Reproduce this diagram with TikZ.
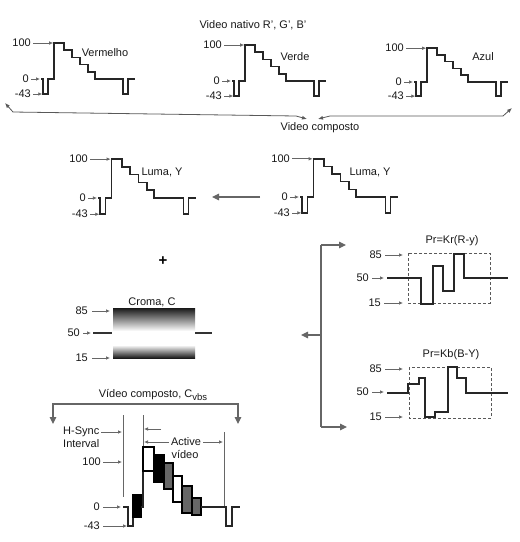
\documentclass[tikz,border=0pt]{standalone}
\usepackage{fontspec}
\setmainfont{Liberation Sans}
\usetikzlibrary{arrows.meta}
\tikzset{
  wav/.style={line width=1.5pt, draw=black!85, line join=miter},
  lab/.style={font=\fontsize{11}{12}\selectfont, inner sep=0pt, text=black!90},
  tick/.style={draw=black!60, line width=0.7pt, -{Latex[length=4pt,width=3.5pt]}},
  conn/.style={draw=black!60, line width=1.1pt, -{Triangle[length=7pt,width=6.5pt]}},
  thinl/.style={draw=black!65, line width=0.8pt},
  gline/.style={draw=black!60, line width=0.8pt},
  dbox/.style={draw=black!65, line width=0.9pt, dash pattern=on 3pt off 2pt},
  burst/.style={draw=black, line width=1.2pt},
}
\newcommand\mywave[5]{%
  \begin{scope}[shift={(#2,#3)},xscale=#4,yscale=#5]
    \draw[wav] (0,0) -- (2,0) -- (2,15) -- (7,15) -- (7,0) -- (13,0) -- (13,-36)
      -- (23,-36) -- (23,-28.8) -- (31,-28.8) -- (31,-21.6) -- (39,-21.6)
      -- (39,-14.4) -- (47,-14.4) -- (47,-7.2) -- (54,-7.2) -- (54,0)
      -- (82,0) -- (82,15) -- (87,15) -- (87,0) -- (94,0);
    \coordinate (#1-a) at (12.2,-36);
    \coordinate (#1-b) at (-1,0);
    \coordinate (#1-c) at (1.3,15);
  \end{scope}
  \node[lab,anchor=east] (#1-n100) at ({#2-10},{#3-36*#5}) {100};
  \node[lab,anchor=east] (#1-n0) at ({#2-12},{#3}) {0};
  \node[lab,anchor=east] (#1-n43) at ({#2-10},{#3+15*#5}) {-43};
  \draw[tick] ([xshift=2pt]#1-n100.east) -- (#1-a);
  \draw[tick] ([xshift=2pt]#1-n0.east) -- (#1-b);
  \draw[tick] ([xshift=2pt]#1-n43.east) -- (#1-c);
}
\begin{document}
\begin{tikzpicture}[x=1pt,y=-1pt]
\useasboundingbox[fill=white] (0,0) rectangle (520,542);

% ---------- top row ----------
\node[lab] (title) at (253,25) {Video nativo R', G', B'};
\mywave{r}{41}{79}{1}{1}
\mywave{g}{232}{81}{1}{1}
\mywave{b}{414}{82}{1}{0.94}
\node[lab] (tr) at (105,53) {Vermelho};
\node[lab] (tg) at (295,57) {Verde};
\node[lab] (tb) at (483,57) {Azul};

% composite brackets
\coordinate (c1) at (5,103);
\coordinate (c2) at (13,112);
\coordinate (c3) at (296,116);
\coordinate (c4) at (307,119);
\draw[thinl, {Latex[length=5pt,width=4pt]}-{Latex[length=5pt,width=4pt]}] (c1) -- (c2) -- (c3) -- (c4);
\coordinate (d1) at (318,119);
\coordinate (d2) at (330,116);
\coordinate (d3) at (503,116);
\coordinate (d4) at (512,108);
\draw[thinl, {Latex[length=5pt,width=4pt]}-{Latex[length=5pt,width=4pt]}] (d1) -- (d2) -- (d3) -- (d4);
\node[lab] (vc) at (320,128) {Video composto};

% ---------- luma row ----------
\mywave{yl}{98}{198}{1.04}{1.08}
\mywave{yr}{300}{197}{1.04}{1.06}
\node[lab] (tyl) at (162,172) {Luma, Y};
\node[lab] (tyr) at (370,172) {Luma, Y};
\coordinate (la) at (260,197);
\coordinate (lb) at (212,197);
\draw[conn] (la) -- (lb);

\node[font=\fontsize{15}{15}\selectfont\bfseries, inner sep=0pt] (plus) at (163,261) {+};

% ---------- chroma ----------
\node[lab] (tc) at (152,302) {Croma, C};
\shade[top color=black!90, bottom color=white] (113,308) rectangle (195,331);
\fill[white] (113,331) rectangle (195,345);
\shade[top color=white, bottom color=black!90] (113,345) rectangle (195,358);
\draw[line width=1.1pt, black!80] (93,333) -- (112,333);
\draw[line width=1.1pt, black!80] (195,333) -- (212,333);
\node[lab,anchor=east] (c85) at (88,311) {85};
\node[lab,anchor=east] (c50) at (80,333) {50};
\node[lab,anchor=east] (c15) at (88,358) {15};
\coordinate (c85t) at (110,311);
\coordinate (c50t) at (91,333);
\coordinate (c15t) at (110,358);
\draw[tick] ([xshift=4pt]c85.east) -- (c85t);
\draw[tick] ([xshift=3pt]c50.east) -- (c50t);
\draw[tick] ([xshift=4pt]c15.east) -- (c15t);

% ---------- right side tree ----------
\coordinate (v1) at (321,245);
\coordinate (v2) at (321,427);
\coordinate (v3) at (321,335);
\coordinate (r1) at (346,245);
\coordinate (r2) at (347,427);
\coordinate (r3) at (301,335);
\draw[conn, -] (v1) -- (v2);
\draw[conn] (v1) -- (r1);
\draw[conn] (v2) -- (r2);
\draw[conn] (v3) -- (r3);

% Pr = Kr(R-y)
\node[lab] (pr) at (452,241) {Pr=Kr(R-y)};
\draw[dbox] (408,253) rectangle (490,303);
\draw[wav, line width=1.4pt] (387,278) -- (421,278) -- (421,304) -- (433,304) -- (433,266) -- (443,266)
  -- (443,291) -- (454,291) -- (454,254) -- (464,254) -- (464,278) -- (508,278);
\node[lab,anchor=east] (p85) at (382,255) {85};
\node[lab,anchor=east] (p50) at (369,278) {50};
\node[lab,anchor=east] (p15) at (381,303) {15};
\coordinate (p85t) at (403,255);
\coordinate (p50t) at (384,278);
\coordinate (p15t) at (403,303);
\draw[tick] ([xshift=3pt]p85.east) -- (p85t);
\draw[tick] ([xshift=3pt]p50.east) -- (p50t);
\draw[tick] ([xshift=3pt]p15.east) -- (p15t);

% Pr = Kb(B-Y)
\node[lab] (pb) at (451,355) {Pr=Kb(B-Y)};
\draw[dbox] (409,367) rectangle (491,418);
\draw[wav, line width=1.4pt] (387,393) -- (408,393) -- (408,384) -- (419,384) -- (419,378) -- (425,378)
  -- (425,417) -- (435,417) -- (435,412) -- (448,412) -- (448,367) -- (457,367)
  -- (457,378) -- (466,378) -- (466,393) -- (508,393);
\node[lab,anchor=east] (q85) at (382,369) {85};
\node[lab,anchor=east] (q50) at (369,392) {50};
\node[lab,anchor=east] (q15) at (382,417) {15};
\coordinate (q85t) at (403,369);
\coordinate (q50t) at (384,392);
\coordinate (q15t) at (403,417);
\draw[tick] ([xshift=3pt]q85.east) -- (q85t);
\draw[tick] ([xshift=3pt]q50.east) -- (q50t);
\draw[tick] ([xshift=3pt]q15.east) -- (q15t);

% ---------- composite video ----------
\node[lab] (tcv) at (153,395) {Vídeo composto, C\raisebox{-0.4ex}{\fontsize{9.5}{10}\selectfont vbs}};
\coordinate (e1) at (53,404);
\coordinate (e2) at (238,404);
\coordinate (e0) at (53,424);
\coordinate (e3) at (238,424);
\draw[conn, {Triangle[length=7pt,width=6.5pt]}-{Triangle[length=7pt,width=6.5pt]}] (e0) -- (e1) -- (e2) -- (e3);

\draw[gline] (123,415) -- (123,497);
\draw[gline] (143,415) -- (143,505);
\draw[gline] (224,432) -- (224,507);

\node[lab,anchor=west] (hs) at (63,432) {H-Sync};
\node[lab,anchor=west] (hi) at (63,444) {Interval};
\coordinate (hst) at (122,432);
\draw[tick] ([xshift=2pt]hs.east) -- (hst);
\coordinate (k1) at (161,429);
\coordinate (k2) at (144,429);
\draw[tick] (k1) -- (k2);
\node[lab] (act) at (186,442) {Active};
\node[lab] (vid) at (185,454) {vídeo};
\coordinate (k3) at (144,442);
\coordinate (k4) at (223,442);
\draw[tick] ([xshift=-2pt]act.west) -- (k3);
\draw[tick] ([xshift=2pt]act.east) -- (k4);

\node[lab,anchor=east] (z100) at (101,462) {100};
\node[lab,anchor=east] (z0) at (100,507) {0};
\node[lab,anchor=east] (z43) at (100,526) {-43};
\coordinate (z100t) at (122,462);
\coordinate (z0t) at (121,507);
\coordinate (z43t) at (127,526);
\draw[tick] ([xshift=2pt]z100.east) -- (z100t);
\draw[tick] ([xshift=3pt]z0.east) -- (z0t);
\draw[tick] ([xshift=3pt]z43.east) -- (z43t);

\draw[wav, line width=1.3pt] (123,507) -- (128,507) -- (128,526) -- (133,526) -- (133,517);
\draw[burst, fill=black] (133,495) rectangle (141,517);
\draw[wav, line width=1.3pt] (141,507) -- (143,507) -- (143,471);
\draw[burst, fill=white] (143,447) rectangle (154,471);
\draw[burst, fill=black] (154,455) rectangle (164,482);
\draw[burst, fill=black!60] (164,463) rectangle (173,489);
\draw[burst, fill=white] (173,476) rectangle (182,502);
\draw[burst, fill=black!60] (182,486) rectangle (192,513);
\draw[burst, fill=black!60] (192,498) rectangle (201,515);
\draw[wav, line width=1.3pt] (201,507) -- (226,507) -- (226,526) -- (232,526) -- (232,507) -- (240,507);
\end{tikzpicture}
\end{document}
